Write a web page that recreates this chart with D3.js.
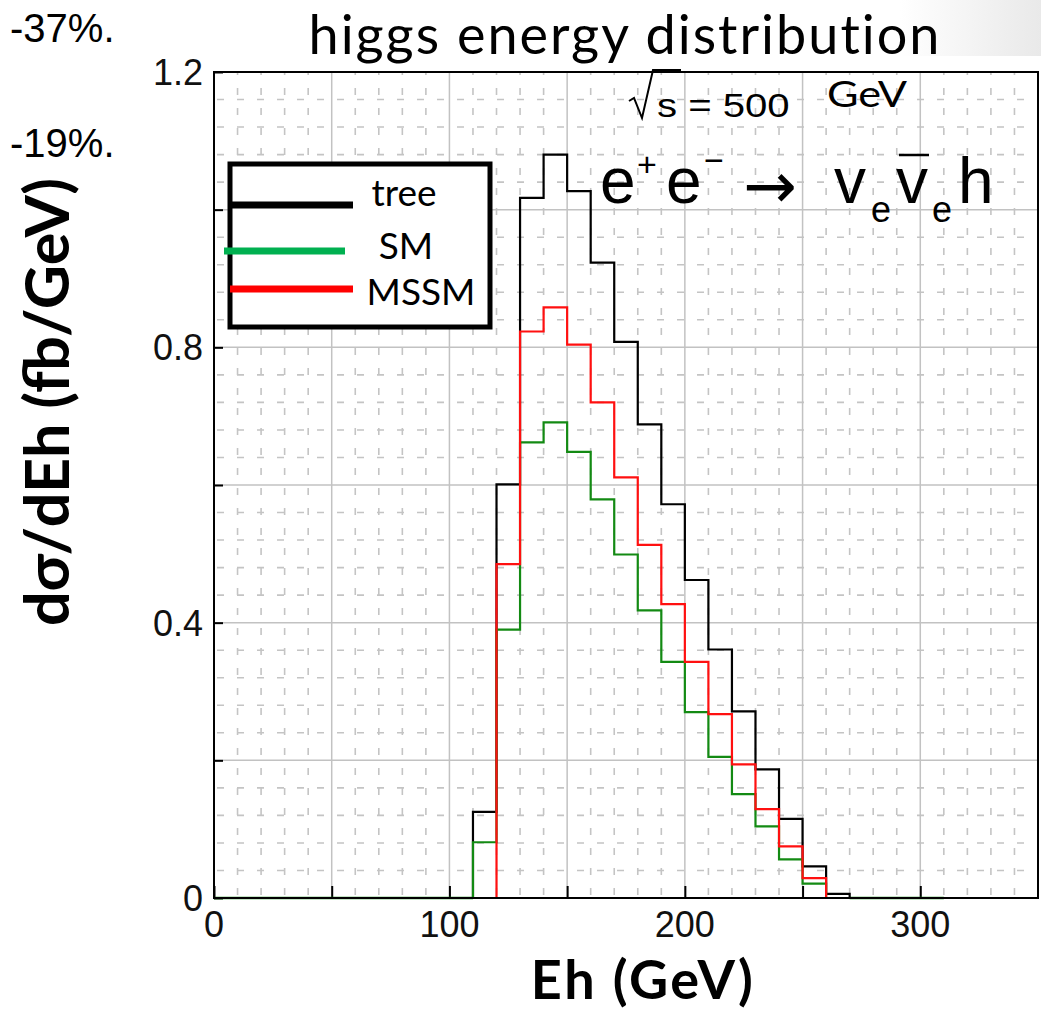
<!DOCTYPE html>
<meta charset="utf-8">
<style>
  body {
    margin: 0;
    background-color: #fff;
  }
  svg { display: block; }
  .tick-label {
    font-family: "Liberation Sans", Arial, sans-serif;
    font-size: 36px;
    fill: #111;
  }
  .cal { font-family: Lato, "Open Sans", sans-serif; }
  .arial { font-family: "Liberation Sans", Arial, sans-serif; }
</style>
<body>
<div id="chart"></div>
<script src="https://d3js.org/d3.v7.min.js"></script>
<script>
  // lower edge of each 10 GeV bin
  const binLow = [110, 120, 130, 140, 150, 160, 170, 180, 190, 200, 210, 220, 230, 240, 250, 260];
  const binWidth = 10;
  // dsigma/dEh in fb/GeV
  const treeVals = [0.125, 0.601, 1.017, 1.080, 1.027, 0.923, 0.808, 0.688, 0.572, 0.462, 0.361, 0.271, 0.187, 0.115, 0.046, 0.006];
  const smVals   = [0.081, 0.390, 0.662, 0.691, 0.648, 0.579, 0.499, 0.418, 0.343, 0.270, 0.205, 0.151, 0.104, 0.056, 0.021, 0];
  const mssmVals = [0, 0.485, 0.823, 0.858, 0.804, 0.720, 0.611, 0.513, 0.427, 0.343, 0.267, 0.194, 0.129, 0.075, 0.029, 0];
  // where the SM curve runs along zero
  const smZeroSpans = [[0, 110], [270, 310]];

  const xLabelTicks = [0, 100, 200, 300];
  const yLabelTicks = [0, 0.4, 0.8, 1.2];
  const legendItems = ["tree", "SM", "MSSM"];
  const sideNotes = ["-37%.", "-19%."];

  const width = 1041, height = 1010;
  const margin = { top: 72, right: 3, bottom: 112, left: 214 };

  const svg = d3.select("#chart")
    .append("svg")
    .attr("width", width)
    .attr("height", height);

  // faint slide background in the top right corner
  const defs = svg.append("defs");
  const bgGrad = defs.append("linearGradient").attr("id", "bg-grad");
  bgGrad.append("stop").attr("offset", "0%").attr("stop-color", "#fff");
  bgGrad.append("stop").attr("offset", "100%").attr("stop-color", "#e9e9e9");
  svg.append("rect")
    .attr("x", 900).attr("y", 0)
    .attr("width", 141).attr("height", 56)
    .attr("fill", "url(#bg-grad)");

  const x = d3.scaleLinear().domain([0, 350]).range([margin.left, width - margin.right]);
  const y = d3.scaleLinear().domain([0, 1.2]).range([height - margin.bottom, margin.top]);

  const x0 = x.range()[0], x1 = x.range()[1];
  const y0 = y.range()[0], y1 = y.range()[1];

  // grid: dashed minor lines, solid major lines
  const grid = svg.append("g");
  const xMinor = d3.range(1, 35).filter(i => i % 5 !== 0).map(i => i * 10);
  const yMinor = d3.range(1, 30).filter(i => i % 5 !== 0).map(i => i * 0.04);
  const xMajor = d3.range(1, 7).map(i => i * 50);
  const yMajor = d3.range(1, 6).map(i => i * 0.2);

  grid.selectAll(".vminor").data(xMinor).join("line")
    .attr("x1", d => x(d)).attr("x2", d => x(d))
    .attr("y1", y0).attr("y2", y1)
    .attr("stroke", "#c4c4c4").attr("stroke-width", 1.6)
    .attr("stroke-dasharray", "7,13").attr("stroke-dashoffset", -3);
  grid.selectAll(".hminor").data(yMinor).join("line")
    .attr("x1", x0).attr("x2", x1)
    .attr("y1", d => y(d)).attr("y2", d => y(d))
    .attr("stroke", "#c4c4c4").attr("stroke-width", 1.6)
    .attr("stroke-dasharray", "7,13").attr("stroke-dashoffset", -3);
  grid.selectAll(".vmajor").data(xMajor).join("line")
    .attr("x1", d => x(d)).attr("x2", d => x(d))
    .attr("y1", y0).attr("y2", y1)
    .attr("stroke", "#c2c2c2").attr("stroke-width", 1.5);
  grid.selectAll(".hmajor").data(yMajor).join("line")
    .attr("x1", x0).attr("x2", x1)
    .attr("y1", d => y(d)).attr("y2", d => y(d))
    .attr("stroke", "#c2c2c2").attr("stroke-width", 1.5);

  // inward tick marks
  svg.append("g")
    .attr("transform", `translate(0,${y0})`)
    .call(d3.axisTop(x).tickValues(d3.range(0, 7).map(i => i * 50)).tickSize(12).tickFormat(""))
    .call(g => g.select(".domain").remove())
    .selectAll("line").attr("stroke", "#000").attr("stroke-width", 2);
  svg.append("g")
    .attr("transform", `translate(${x0},0)`)
    .call(d3.axisRight(y).tickValues(d3.range(0, 7).map(i => i * 0.2)).tickSize(9).tickFormat(""))
    .call(g => g.select(".domain").remove())
    .selectAll("line").attr("stroke", "#000").attr("stroke-width", 2);

  // histograms
  function stepPoints(vals) {
    const first = vals.findIndex(v => v > 0);
    let last = vals.length - 1;
    while (vals[last] <= 0) last--;
    const pts = [[binLow[first], 0]];
    for (let i = first; i <= last; i++) {
      pts.push([binLow[i], vals[i]]);
      pts.push([binLow[i] + binWidth, vals[i]]);
    }
    pts.push([binLow[last] + binWidth, 0]);
    return pts;
  }
  const line = d3.line().x(d => x(d[0])).y(d => y(d[1]));

  const series = [
    { vals: treeVals, color: "#000000" },
    { vals: smVals, color: "#138a13" },
    { vals: mssmVals, color: "#ff1010" }
  ];

  svg.append("g")
    .selectAll("path.zero")
    .data(smZeroSpans)
    .join("path")
    .attr("d", d => line([[d[0], 0], [d[1], 0]]))
    .attr("fill", "none")
    .attr("stroke", "#138a13")
    .attr("stroke-width", 2.5);

  svg.append("g")
    .selectAll("path.hist")
    .data(series)
    .join("path")
    .attr("d", d => line(stepPoints(d.vals)))
    .attr("fill", "none")
    .attr("stroke", d => d.color)
    .attr("stroke-width", 2.2)
    .attr("stroke-linejoin", "miter");

  // plot frame
  svg.append("rect")
    .attr("x", x0).attr("y", y1)
    .attr("width", x1 - x0).attr("height", y0 - y1)
    .attr("fill", "none")
    .attr("stroke", "#000")
    .attr("stroke-width", 2);

  // tick labels
  svg.append("g")
    .attr("class", "tick-label")
    .selectAll("text")
    .data(xLabelTicks)
    .join("text")
    .attr("x", d => x(d))
    .attr("y", y0 + 39)
    .attr("text-anchor", "middle")
    .text(d => d);
  svg.append("g")
    .attr("class", "tick-label")
    .selectAll("text")
    .data(yLabelTicks)
    .join("text")
    .attr("x", x0 - 11)
    .attr("y", d => y(d) + 13)
    .attr("text-anchor", "end")
    .text(d => d === 0 ? "0" : d3.format(".1f")(d));

  // axis titles
  svg.append("text")
    .attr("class", "cal")
    .attr("x", 643).attr("y", 998.5)
    .attr("text-anchor", "middle")
    .attr("font-size", 54).attr("font-weight", 700)
    .attr("letter-spacing", 2.5)
    .text("Eh (GeV)");
  svg.append("text")
    .attr("class", "cal")
    .attr("transform", "translate(69,402) rotate(-90)")
    .attr("text-anchor", "middle")
    .attr("font-size", 61).attr("font-weight", 700)
    .text("dσ/dEh (fb/GeV)");

  // title
  svg.append("text")
    .attr("class", "cal")
    .attr("x", 625).attr("y", 54)
    .attr("text-anchor", "middle")
    .attr("font-size", 54)
    .attr("letter-spacing", 2)
    .text("higgs energy distribution");

  // side notes
  svg.append("g")
    .attr("class", "arial")
    .selectAll("text")
    .data(sideNotes)
    .join("text")
    .attr("x", 10)
    .attr("y", (d, i) => 42 + i * 115)
    .attr("font-size", 40)
    .text(d => d);

  // legend
  const legend = svg.append("g");
  legend.append("rect")
    .attr("x", 230).attr("y", 164)
    .attr("width", 260).attr("height", 163)
    .attr("fill", "#fff")
    .attr("stroke", "#000")
    .attr("stroke-width", 5);
  const legendColors = ["#000000", "#00b050", "#ff0000"];
  const legendRow = [205, 251, 289];
  const legendLineX = [[230, 353], [224, 345], [230, 353]];
  const legendTextX = [404, 406, 421];
  const legendTextY = [206, 259, 305];
  legend.selectAll("line")
    .data(legendItems)
    .join("line")
    .attr("x1", (d, i) => legendLineX[i][0])
    .attr("x2", (d, i) => legendLineX[i][1])
    .attr("y1", (d, i) => legendRow[i])
    .attr("y2", (d, i) => legendRow[i])
    .attr("stroke", (d, i) => legendColors[i])
    .attr("stroke-width", 7);
  legend.selectAll("text")
    .data(legendItems)
    .join("text")
    .attr("class", "cal")
    .attr("x", (d, i) => legendTextX[i])
    .attr("y", (d, i) => legendTextY[i])
    .attr("text-anchor", "middle")
    .attr("font-size", 37)
    .text(d => d);

  // sqrt(s) = 500 GeV
  const ann = svg.append("g");
  ann.append("path")
    .attr("d", "M629,101 L634,98 L642,118 L653,70 L681,70")
    .attr("fill", "none")
    .attr("stroke", "#000")
    .attr("stroke-width", 2);
  ann.append("text").attr("class", "arial")
    .attr("transform", "translate(657,117) scale(1.18,1)")
    .attr("font-size", 34)
    .text("s = 500");
  ann.append("text").attr("class", "cal")
    .attr("transform", "translate(827,107) scale(1.2,1)")
    .attr("font-size", 36)
    .text("GeV");

  // process label
  const proc = svg.append("g").attr("class", "arial").attr("fill", "#000");
  const procParts = [
    { t: "e", x: 600, y: 203, s: 64 },
    { t: "+", x: 637, y: 176, s: 34 },
    { t: "e", x: 666, y: 203, s: 64 },
    { t: "−", x: 704, y: 172, s: 34 },
    { t: "v", x: 834, y: 203, s: 64 },
    { t: "e", x: 871, y: 222, s: 36 },
    { t: "v", x: 896, y: 203, s: 64 },
    { t: "e", x: 932, y: 222, s: 36 },
    { t: "h", x: 958, y: 203, s: 64 }
  ];
  proc.selectAll("text")
    .data(procParts)
    .join("text")
    .attr("x", d => d.x).attr("y", d => d.y)
    .attr("font-size", d => d.s)
    .text(d => d.t);
  proc.append("text")
    .attr("x", 743).attr("y", 208)
    .attr("font-family", "'DejaVu Sans', sans-serif")
    .attr("font-size", 64)
    .text("→");
  proc.append("line")
    .attr("x1", 899).attr("x2", 929).attr("y1", 155).attr("y2", 155)
    .attr("stroke", "#000").attr("stroke-width", 2.5);
</script>
</body>
</html>
